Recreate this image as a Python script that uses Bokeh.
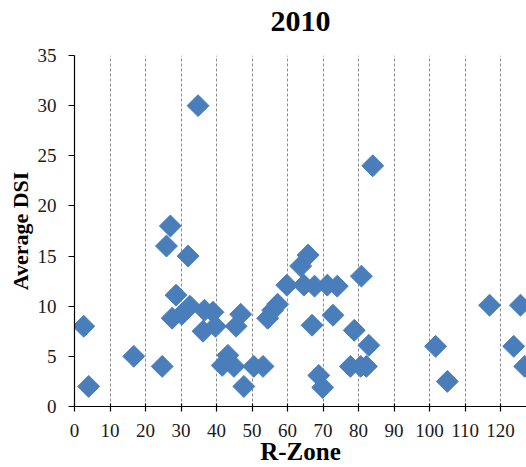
import math

from bokeh.embed import file_html
from bokeh.models import ColumnDataSource, FixedTicker, Range1d
from bokeh.plotting import figure
from bokeh.resources import INLINE

# R-Zone position of each monitored site and its average DSI for 2010
r_zone = [2.6, 4.0, 16.7, 24.7, 25.9, 27.0, 32.0, 34.8, 28.6, 27.5,
          30.2, 32.5, 36.6, 39.0, 36.2, 39.7, 46.8, 45.5, 43.2, 41.6,
          44.9, 47.7, 50.5, 53.1, 54.4, 55.8, 57.2, 59.8, 63.7, 65.8,
          64.6, 67.6, 71.2, 74.0, 80.8, 84.0, 66.9, 72.8, 78.8, 82.9,
          77.7, 80.6, 82.2, 68.8, 69.9, 101.7, 105.0, 116.9, 125.6, 123.7,
          126.8]
avg_dsi = [8.0, 2.0, 5.0, 4.0, 16.0, 18.0, 15.0, 30.0, 11.1, 8.8,
           9.2, 10.0, 9.6, 9.4, 7.5, 8.0, 9.2, 8.0, 5.1, 4.1,
           4.0, 2.0, 4.0, 4.0, 8.8, 9.6, 10.2, 12.1, 14.0, 15.1,
           12.1, 12.0, 12.1, 12.0, 13.0, 24.0, 8.1, 9.1, 7.6, 6.1,
           4.0, 4.0, 4.0, 3.1, 1.9, 6.0, 2.5, 10.1, 10.1, 6.0,
           4.0]

x_ticks = list(range(0, 130, 10))
y_ticks = list(range(0, 40, 5))

SERIF = "Liberation Serif"
BLUE = "#4A7EBB"

source = ColumnDataSource(data=dict(x=r_zone, y=avg_dsi))

p = figure(
    width=526, height=467,
    output_backend="svg", toolbar_location=None,
    x_range=Range1d(0, 127.3), y_range=Range1d(0, 35),
    min_border_left=74, min_border_right=0,
    min_border_top=55, min_border_bottom=59,
    title="2010",
)
p.outline_line_color = None
p.background_fill_color = "white"
p.border_fill_color = "white"

p.title.align = "center"
p.title.offset = -5
p.title.padding = dict(left=0, right=0, top=0, bottom=20)
p.title.text_font = SERIF
p.title.text_font_size = "30px"
p.title.text_font_style = "bold"
p.title.text_color = "black"

# Diamonds: squares turned by 45 degrees
p.scatter("x", "y", source=source, marker="square", size=15.5,
          angle=math.pi / 4, fill_color=BLUE, line_color=BLUE)

p.xaxis.ticker = FixedTicker(ticks=x_ticks)
p.yaxis.ticker = FixedTicker(ticks=y_ticks)
p.xaxis.axis_label = "R-Zone"
p.yaxis.axis_label = "Average DSI"

for ax in (p.xaxis[0], p.yaxis[0]):
    ax.axis_line_color = "black"
    ax.axis_line_width = 1.2
    ax.major_tick_line_color = "black"
    ax.major_tick_line_width = 1.2
    ax.minor_tick_line_color = None
    ax.major_label_text_font = SERIF
    ax.major_label_text_font_size = "19px"
    ax.major_label_text_color = "#1a1a1a"
    ax.axis_label_text_font = SERIF
    ax.axis_label_text_font_style = "bold"
    ax.axis_label_text_color = "black"

p.xaxis.major_tick_in = 3
p.xaxis.major_tick_out = 5
p.xaxis.major_label_standoff = 12
p.xaxis.axis_label_text_font_size = "25px"
p.xaxis.axis_label_standoff = -2

p.yaxis.major_tick_in = 0
p.yaxis.major_tick_out = 6
p.yaxis.major_label_standoff = 12
p.yaxis.axis_label_text_font_size = "22px"
p.yaxis.axis_label_standoff = 2

# Dashed vertical guides only
p.xgrid.ticker = FixedTicker(ticks=x_ticks[1:])
p.xgrid.grid_line_color = "#8c8c8c"
p.xgrid.grid_line_dash = "3 2"
p.xgrid.grid_line_width = 1
p.ygrid.grid_line_color = None

open("out.html", "w").write(file_html(p, INLINE))
